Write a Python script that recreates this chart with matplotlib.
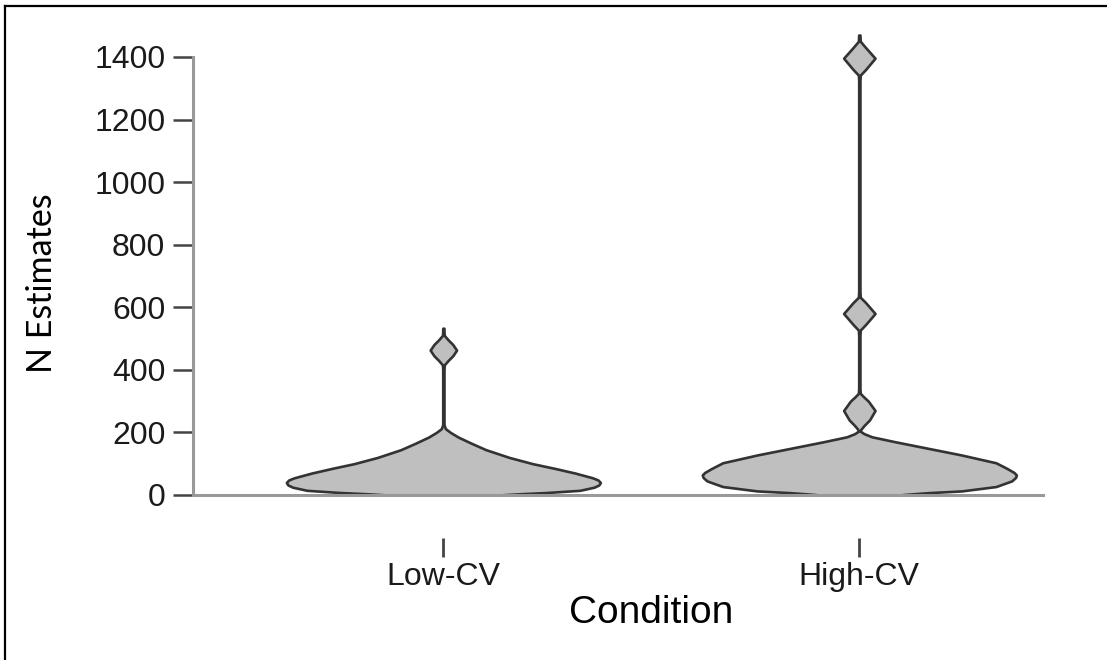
import numpy as np
import matplotlib.pyplot as plt
from matplotlib.lines import Line2D

plt.rcParams['font.family'] = ['Liberation Sans', 'DejaVu Sans']

conditions = ['Low-CV', 'High-CV']

# density profile of each condition: N estimate and relative density
low_n = [0, 4, 8, 15, 25, 32, 40, 48, 55, 70, 85, 100, 120, 145, 165, 185, 200,
         212, 225, 300, 400, 416, 430, 445, 463, 481, 496, 510, 520, 533]
low_dens = [0.35, 0.49, 0.66, 0.87, 0.96, 0.99, 1.00, 0.985, 0.95, 0.84, 0.71,
            0.57, 0.42, 0.27, 0.18, 0.095, 0.045, 0.013, 0.004, 0.004, 0.004,
            0.006, 0.03, 0.06, 0.084, 0.06, 0.03, 0.006, 0.004, 0.004]

high_n = [0, 3, 7.5, 13, 27, 45, 56, 64, 72, 85, 103, 128, 149, 170, 186, 196,
          204, 210, 222, 240, 270, 300, 315, 325, 340, 510, 527, 545, 580, 615,
          632, 650, 1325, 1342, 1360, 1396, 1430, 1450, 1470]
high_dens = [0.25, 0.32, 0.44, 0.65, 0.87, 0.97, 0.995, 1.00, 0.985, 0.94, 0.87,
             0.65, 0.44, 0.23, 0.08, 0.03, 0.006, 0.01, 0.03, 0.065, 0.1, 0.057,
             0.025, 0.006, 0.004, 0.004, 0.006, 0.04, 0.1, 0.04, 0.006, 0.004,
             0.004, 0.006, 0.04, 0.1, 0.04, 0.006, 0.004]

fig = plt.figure(figsize=(11.07, 6.6), dpi=100)
ax = fig.add_axes([0.1743, 0.25, 0.7679, 0.7064])

stats = []
for n, d in [(low_n, low_dens), (high_n, high_dens)]:
    n = np.asarray(n, float)
    stats.append({'coords': n, 'vals': np.asarray(d, float),
                  'mean': n.mean(), 'median': np.median(n),
                  'min': n.min(), 'max': n.max(), 'quantiles': []})

parts = ax.violin(stats, positions=[1, 2], widths=0.755, showextrema=False)
for body in parts['bodies']:
    body.set_facecolor('#bfbfbf')
    body.set_edgecolor('#333333')
    body.set_linewidth(1.9)
    body.set_alpha(1)

ax.set_xlim(0.398, 2.4416)
ax.set_ylim(0, 1490)
ax.set_yticks(range(0, 1401, 200))
ax.tick_params(axis='y', length=14.4, width=1.8, color='#444444', pad=5.5,
               labelsize=23, labelcolor='#1a1a1a')
ax.tick_params(axis='x', bottom=False, labelbottom=False)

for side in ['top', 'right']:
    ax.spines[side].set_visible(False)
ax.spines['left'].set_bounds(0, 1400)
for side in ['left', 'bottom']:
    ax.spines[side].set_color('#999999')
    ax.spines[side].set_linewidth(2.2)

# category ticks sit a little below the baseline
sec = ax.secondary_xaxis(-0.092)
sec.set_xticks([1, 2], conditions)
sec.spines['bottom'].set_visible(False)
sec.tick_params(length=13.7, width=2, color='#444444', pad=3.5,
                labelsize=23, labelcolor='#1a1a1a')

fig.text(42 / 1107, 1 - 283 / 660, 'N Estimates', rotation=90, family='Lato',
         fontsize=24.5, ha='center', va='center')
fig.text(651 / 1107, 1 - 623 / 660, 'Condition', fontsize=28,
         ha='center', va='baseline')

# frame lines on the top and left edges
fig.add_artist(Line2D([5 / 1107, 5 / 1107], [0, 1 - 5.5 / 660], color='black',
                      lw=1.6, transform=fig.transFigure))
fig.add_artist(Line2D([5 / 1107, 1], [1 - 5.5 / 660, 1 - 5.5 / 660], color='black',
                      lw=1.6, transform=fig.transFigure))

fig.savefig('out.png', dpi=100)
